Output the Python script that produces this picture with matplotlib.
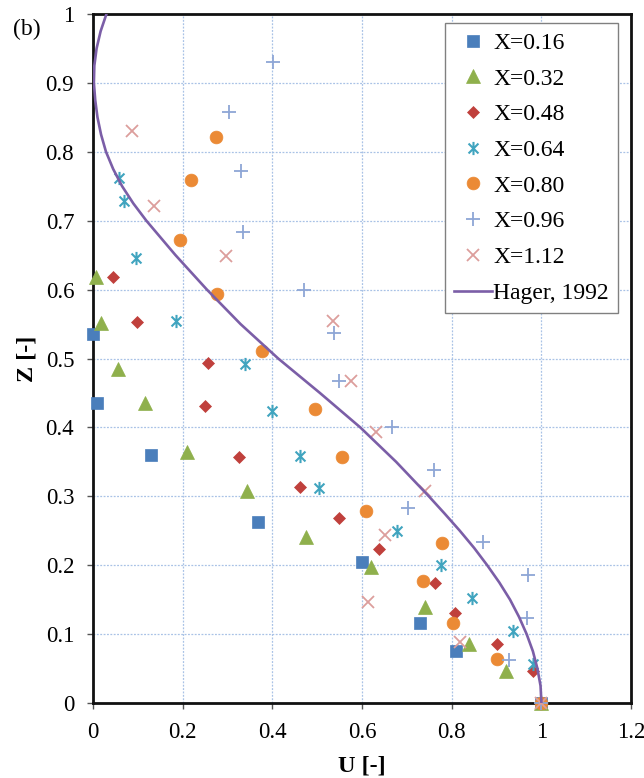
import matplotlib
matplotlib.use("Agg")
import matplotlib.pyplot as plt
from matplotlib.path import Path

plt.rcParams['font.family'] = ['Liberation Serif', 'DejaVu Serif']

# measured velocity profiles, U [-] vs Z [-]
u_016 = [0.0, 0.010, 0.130, 0.368, 0.600, 0.730, 0.810, 1.0]
z_016 = [0.535, 0.436, 0.360, 0.262, 0.205, 0.116, 0.075, 0.0]

u_032 = [0.006, 0.018, 0.055, 0.115, 0.210, 0.344, 0.475, 0.620, 0.740, 0.838, 0.920, 1.0]
z_032 = [0.618, 0.552, 0.485, 0.436, 0.365, 0.307, 0.241, 0.197, 0.140, 0.086, 0.047, 0.0]

u_048 = [0.044, 0.099, 0.256, 0.249, 0.326, 0.462, 0.548, 0.638, 0.762, 0.808, 0.901, 0.981, 1.0]
z_048 = [0.619, 0.553, 0.493, 0.431, 0.357, 0.314, 0.268, 0.224, 0.174, 0.130, 0.086, 0.047, 0.0]

u_064 = [0.058, 0.069, 0.095, 0.185, 0.339, 0.399, 0.462, 0.503, 0.678, 0.776, 0.845, 0.937, 0.981, 1.0]
z_064 = [0.762, 0.728, 0.646, 0.555, 0.492, 0.424, 0.359, 0.312, 0.250, 0.200, 0.153, 0.105, 0.057, 0.0]

u_080 = [0.274, 0.218, 0.193, 0.276, 0.376, 0.496, 0.555, 0.609, 0.778, 0.737, 0.802, 0.901, 1.0]
z_080 = [0.821, 0.759, 0.672, 0.593, 0.511, 0.426, 0.357, 0.279, 0.232, 0.177, 0.116, 0.064, 0.0]

u_096 = [0.401, 0.304, 0.330, 0.335, 0.471, 0.538, 0.548, 0.667, 0.761, 0.702, 0.870, 0.970, 0.968, 0.927, 1.0]
z_096 = [0.931, 0.858, 0.772, 0.684, 0.599, 0.537, 0.468, 0.400, 0.338, 0.283, 0.234, 0.186, 0.124, 0.062, 0.0]

u_112 = [0.088, 0.137, 0.296, 0.536, 0.576, 0.632, 0.741, 0.652, 0.613, 0.819, 1.0]
z_112 = [0.830, 0.722, 0.649, 0.555, 0.468, 0.393, 0.307, 0.244, 0.146, 0.089, 0.0]

# Hager (1992) profile
z_hager = [0.0, 0.025, 0.05, 0.075, 0.1, 0.125, 0.15, 0.175, 0.2, 0.225, 0.25, 0.275, 0.3,
           0.35, 0.4, 0.45, 0.5, 0.55, 0.6, 0.65, 0.7, 0.725, 0.75, 0.775, 0.8, 0.825,
           0.85, 0.875, 0.9, 0.925, 0.95, 0.975, 1.0]
u_hager = [1.0, 0.998, 0.991, 0.981, 0.967, 0.950, 0.930, 0.906, 0.879, 0.850, 0.818, 0.784, 0.749,
           0.676, 0.596, 0.506, 0.413, 0.329, 0.254, 0.184, 0.119, 0.090, 0.065, 0.045, 0.029, 0.018,
           0.010, 0.005, 0.002, 0.003, 0.008, 0.017, 0.030]

labels = ['X=0.16', 'X=0.32', 'X=0.48', 'X=0.64', 'X=0.80', 'X=0.96', 'X=1.12']

x_ticks = [0, 0.2, 0.4, 0.6, 0.8, 1.0, 1.2]
x_ticklabels = ['0', '0.2', '0.4', '0.6', '0.8', '1', '1.2']
y_ticks = [0, 0.1, 0.2, 0.3, 0.4, 0.5, 0.6, 0.7, 0.8, 0.9, 1.0]
y_ticklabels = ['0', '0.1', '0.2', '0.3', '0.4', '0.5', '0.6', '0.7', '0.8', '0.9', '1']

# excel-like asterisk: vertical bar plus an x
star = Path([(0, -1), (0, 1), (-0.75, -0.75), (0.75, 0.75), (-0.75, 0.75), (0.75, -0.75)],
            [Path.MOVETO, Path.LINETO, Path.MOVETO, Path.LINETO, Path.MOVETO, Path.LINETO])

fig = plt.figure(figsize=(6.44, 7.78), dpi=100)
ax = fig.add_axes([0.1444, 0.0964, 0.8356, 0.8856])

kw = dict(linestyle='none', clip_on=False, zorder=3)
ax.plot(u_016, z_016, marker='s', ms=8.8, color='#4a7ebb', mec='#4a7ebb', mew=0.5, label=labels[0], **kw)
ax.plot(u_032, z_032, marker='^', ms=9.6, color='#8fb04c', mec='#8fb04c', mew=0.5, label=labels[1], **kw)
ax.plot(u_048, z_048, marker='D', ms=6.4, color='#c0403c', mec='#c0403c', mew=0.5, label=labels[2], **kw)
ax.plot(u_064, z_064, marker=star, ms=9.5, color='#40a4bf', mec='#40a4bf', mew=1.5, label=labels[3], **kw)
ax.plot(u_080, z_080, marker='o', ms=9.2, color='#eb8a35', mec='#eb8a35', mew=0.5, label=labels[4], **kw)
ax.plot(u_096, z_096, marker='+', ms=10, color='#8ea6d6', mew=1.3, label=labels[5], **kw)
ax.plot(u_112, z_112, marker='x', ms=8.5, color='#dc9e9c', mew=1.3, label=labels[6], **kw)
ax.plot(u_hager, z_hager, color='#7b5ea7', lw=1.9, label='Hager, 1992', zorder=4,
        solid_joinstyle='round')

ax.set_xlim(0, 1.2)
ax.set_ylim(0, 1)
ax.set_xticks(x_ticks)
ax.set_xticklabels(x_ticklabels)
ax.set_yticks(y_ticks)
ax.set_yticklabels(y_ticklabels)
ax.tick_params(direction='out', length=4.5, width=1.0, labelsize=16.5, pad=9, color='#555555')

ax.grid(True, color='#a9c2e6', linestyle=(0, (1.5, 1.2)), linewidth=0.9)
ax.set_axisbelow(True)
for s in ax.spines.values():
    s.set_linewidth(2.0)
    s.set_color('#111111')

ax.set_xlabel('U [-]', fontsize=17.5, fontweight='bold', labelpad=9)
ax.set_ylabel('Z [-]', fontsize=17.5, fontweight='bold', labelpad=6)

fig.text(0.02, 0.962, '(b)', fontsize=17, va='center', ha='left')

leg = ax.legend(loc='upper right', bbox_to_anchor=(0.976, 0.987), fontsize=17,
                fancybox=False, framealpha=1, edgecolor='#808080', borderpad=0.4,
                labelspacing=0.6, handlelength=1.6, handletextpad=0.05, borderaxespad=0)
leg.get_frame().set_linewidth(1.0)

fig.savefig('out.png', dpi=100)
